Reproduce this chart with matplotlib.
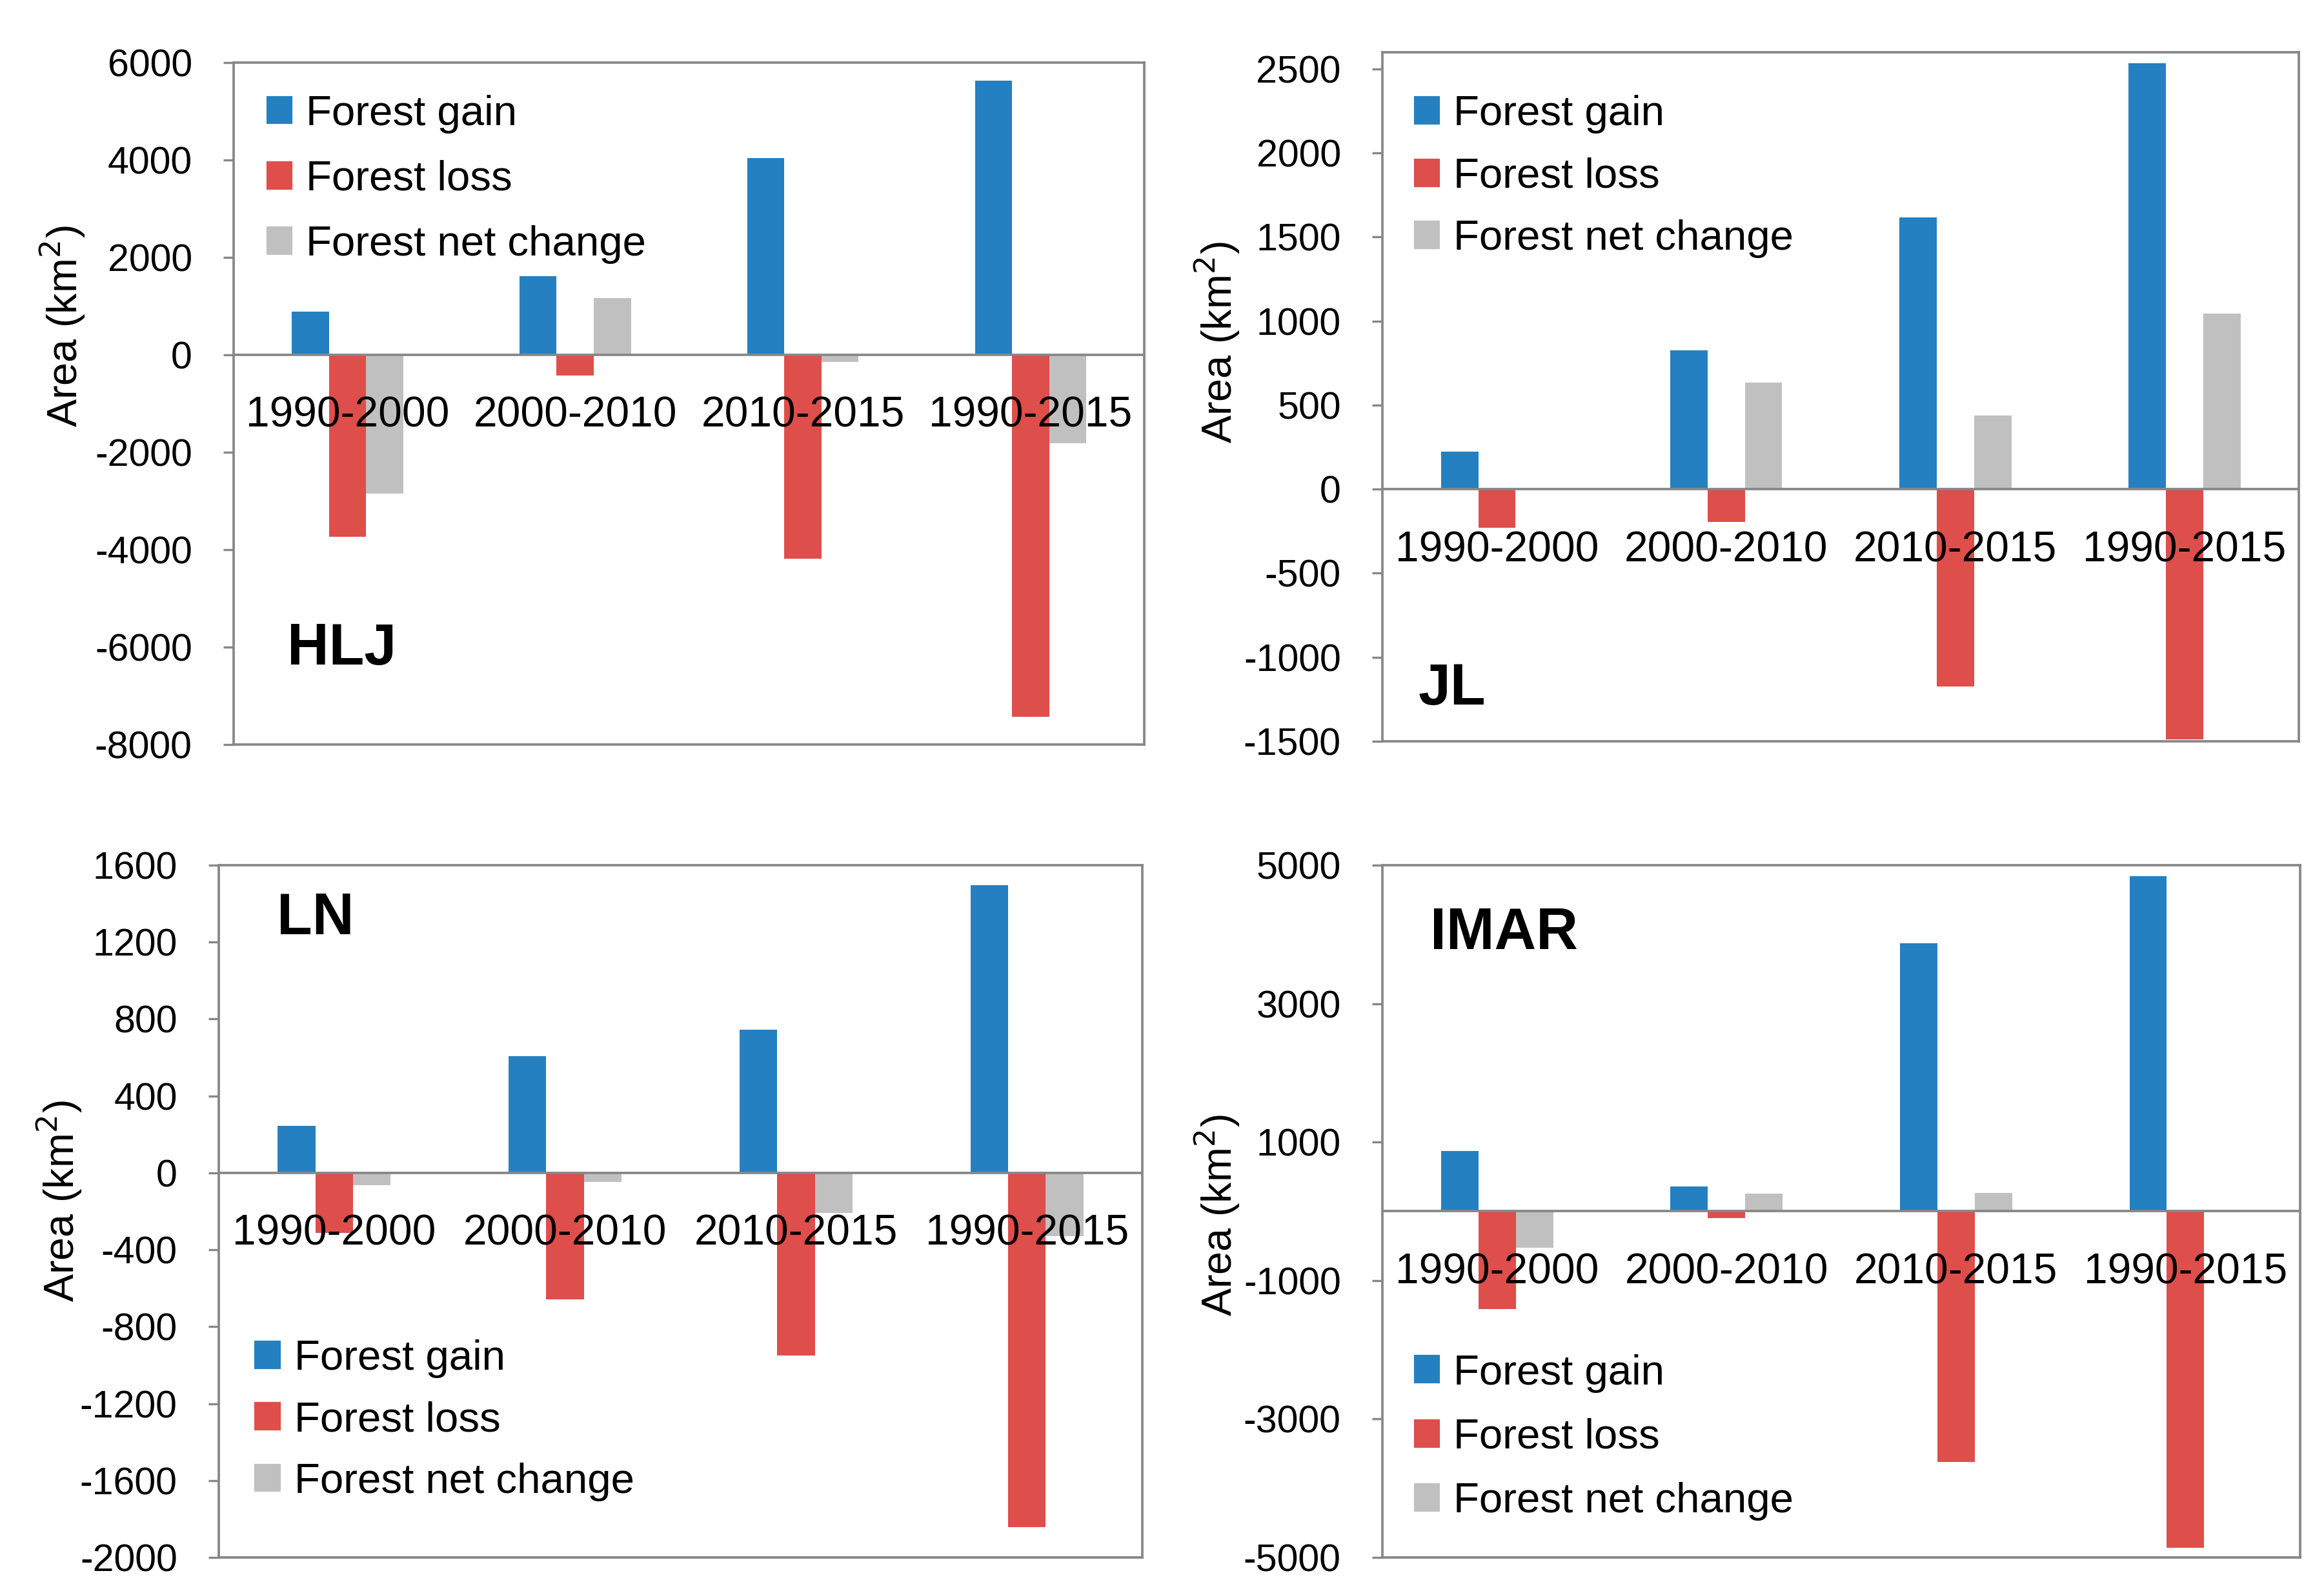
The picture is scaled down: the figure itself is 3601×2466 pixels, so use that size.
import matplotlib
matplotlib.use("Agg")
import matplotlib.pyplot as plt
from matplotlib.patches import Patch

plt.rcParams['font.family'] = ['Liberation Sans', 'DejaVu Sans']

# --------------------------------
# Datos (km2)
# --------------------------------
periods = ['1990-2000', '2000-2010', '2010-2015', '1990-2015']
series_names = ['Forest gain', 'Forest loss', 'Forest net change']
colors = ['#2480C1', '#DE4E4B', '#C0C0C0']

hlj_gain = [890, 1620, 4040, 5630]
hlj_loss = [-3730, -430, -4190, -7430]
hlj_net = [-2850, 1170, -140, -1810]

jl_gain = [225, 826, 1617, 2536]
jl_loss = [-228, -195, -1175, -1490]
jl_net = [-3, 635, 438, 1046]

ln_gain = [245, 606, 745, 1497]
ln_loss = [-311, -657, -950, -1843]
ln_net = [-63, -48, -208, -330]

imar_gain = [868, 358, 3876, 4845]
imar_loss = [-1410, -96, -3620, -4860]
imar_net = [-530, 255, 270, -15]

hlj_ticks = [6000, 4000, 2000, 0, -2000, -4000, -6000, -8000]
jl_ticks = [2500, 2000, 1500, 1000, 500, 0, -500, -1000, -1500]
ln_ticks = [1600, 1200, 800, 400, 0, -400, -800, -1200, -1600, -2000]
imar_ticks = [5000, 3000, 1000, -1000, -3000, -5000]

# --------------------------------
# Paneles: nombre, datos, ejes, leyenda, etiqueta
# --------------------------------
panels = [
    dict(name='HLJ', data=(hlj_gain, hlj_loss, hlj_net), ticks=hlj_ticks,
         ylim=(-8000, 6000),
         rect=[0.1005, 0.532, 0.392, 0.4287], leg=(0.0375, 0.953), sp=0.63,
         lab=(0.0587, 0.14), ylab=(0.027, 0.795)),
    dict(name='JL', data=(jl_gain, jl_loss, jl_net), ticks=jl_ticks,
         ylim=(-1500, 2600),
         rect=[0.5948, 0.5341, 0.3945, 0.4331], leg=(0.0357, 0.938), sp=0.56,
         lab=(0.039, 0.0756), ylab=(0.5237, 0.785)),
    dict(name='LN', data=(ln_gain, ln_loss, ln_net), ticks=ln_ticks,
         ylim=(-2000, 1600),
         rect=[0.0941, 0.0211, 0.3975, 0.4351], leg=(0.040, 0.315), sp=0.54,
         lab=(0.063, 0.9226), ylab=(0.0256, 0.245)),
    dict(name='IMAR', data=(imar_gain, imar_loss, imar_net), ticks=imar_ticks,
         ylim=(-5000, 5000),
         rect=[0.5948, 0.0211, 0.395, 0.4351], leg=(0.0356, 0.294), sp=0.6,
         lab=(0.052, 0.901), ylab=(0.5237, 0.236)),
]

fig = plt.figure(figsize=(3601 / 300, 2466 / 300), dpi=300)
frame_color = '#878787'
w = 0.163
x = list(range(len(periods)))

for p in panels:
    ax = fig.add_axes(p['rect'])
    for k, vals in enumerate(p['data']):
        ax.bar([i + (k - 1) * w for i in x], vals, width=w, color=colors[k],
               zorder=2)
    ax.axhline(0, color=frame_color, lw=0.9, zorder=3)
    ax.set_xlim(-0.5, len(periods) - 0.5)
    ax.set_ylim(*p['ylim'])
    ax.set_yticks(p['ticks'])
    ax.set_yticklabels([str(t) for t in p['ticks']], fontsize=14.2)
    ax.tick_params(axis='y', direction='out', length=3.9, width=0.8,
                   color=frame_color, pad=11.5)
    ax.set_xticks([])
    for s in ax.spines.values():
        s.set_color(frame_color)
        s.set_linewidth(0.9)

    # etiquetas de periodo junto al eje cero
    for i, lab in enumerate(periods):
        ax.annotate(lab, (i, 0), xytext=(0, -22.8), textcoords='offset points',
                    ha='center', va='center', fontsize=15.8, zorder=5,
                    annotation_clip=False)

    handles = [Patch(color=c) for c in colors]
    ax.legend(handles, series_names, loc='upper left', bbox_to_anchor=p['leg'],
              frameon=False, fontsize=15.7, borderpad=0, borderaxespad=0,
              handlelength=0.56, handleheight=0.56, handletextpad=0.35,
              labelspacing=p['sp'])

    ax.text(p['lab'][0], p['lab'][1], p['name'], transform=ax.transAxes,
            ha='left', va='center', fontsize=21.5, fontweight='bold')
    fig.text(p['ylab'][0], p['ylab'][1], 'Area (km$^2$)', rotation=90,
             ha='center', va='center', fontsize=15.5)

fig.savefig('out.png', dpi=300)
